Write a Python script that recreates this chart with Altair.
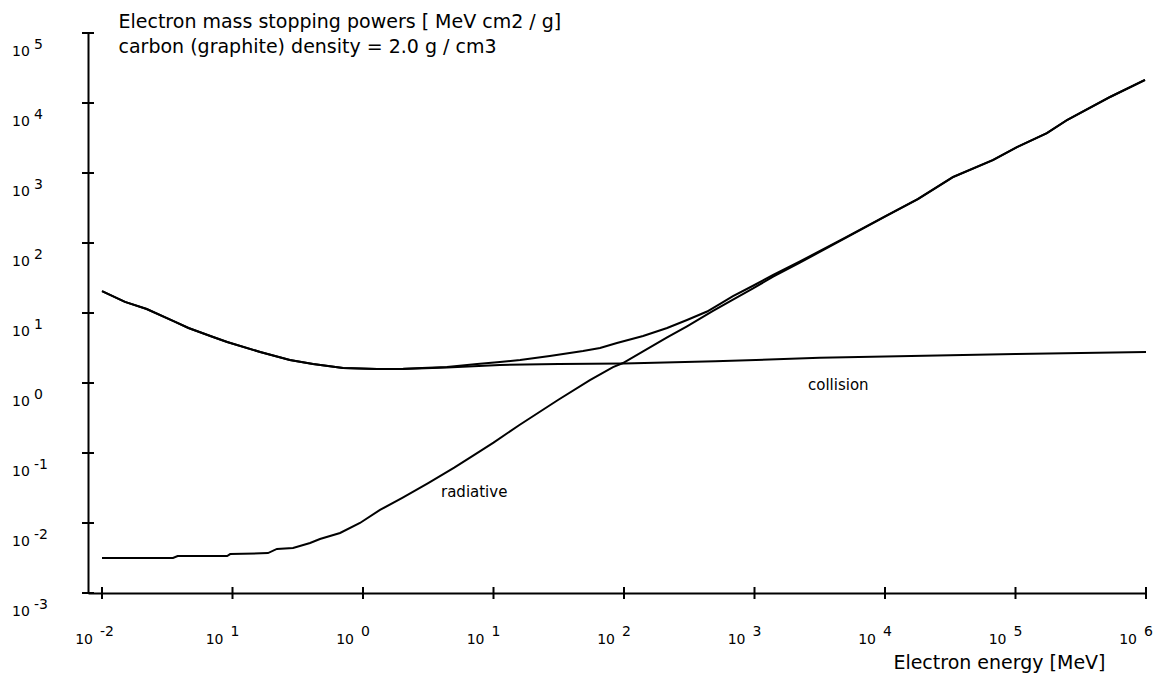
import altair as alt
import pandas as pd

# ---- values (energy in MeV, stopping power in MeV cm2/g) ----
collision_energy = [0.01, 0.015, 0.022, 0.035, 0.046, 0.071, 0.091, 0.163, 0.275, 0.414,
                    0.703, 1.28, 2.03, 4.4, 11.2, 31.6, 100, 500, 3160, 31600, 100000, 1000000]
collision_power = [20.6, 14.4, 11.4, 7.7, 6.1, 4.54, 3.85, 2.77, 2.13, 1.87,
                   1.64, 1.585, 1.585, 1.66, 1.81, 1.87, 1.90, 2.04, 2.29, 2.49, 2.59, 2.77]

radiative_energy = [0.01, 0.035, 0.038, 0.091, 0.096, 0.187, 0.219, 0.291, 0.393, 0.468,
                    0.667, 0.948, 1.35, 2.0, 3.16, 5.0, 7.08, 10, 15.8, 31.2, 54.8, 82.4,
                    98.2, 140, 214, 304, 481, 684, 975, 1390, 2230, 5000, 10000, 17900,
                    33200, 67300, 102600, 174000, 248000, 530000, 982000]
radiative_power = [0.00316, 0.00316, 0.00338, 0.00338, 0.0036, 0.00372, 0.00426, 0.0044,
                   0.00518, 0.0059, 0.0072, 0.01, 0.01535, 0.0229, 0.0372, 0.0617, 0.0933,
                   0.141, 0.251, 0.571, 1.10, 1.69, 1.93, 2.82, 4.47, 6.46, 10.7, 15.5, 22.4,
                   33.1, 52.5, 118, 238, 424, 874, 1530, 2345, 3715, 5700, 12180, 21320]

total_energy = [0.01, 0.015, 0.022, 0.035, 0.046, 0.071, 0.091, 0.163, 0.275, 0.414,
                0.703, 1.28, 2.03, 4.4, 7.5, 11.2, 16, 27, 48.5, 65.5, 88.3, 140, 214, 304,
                433, 545, 684, 975, 1390, 2230, 5000, 10000, 17900, 33200, 67300, 102600,
                174000, 248000, 530000, 982000]
total_power = [20.6, 14.4, 11.4, 7.7, 6.1, 4.54, 3.85, 2.77, 2.13, 1.87,
               1.64, 1.585, 1.6, 1.69, 1.87, 2.0, 2.13, 2.43, 2.86, 3.16, 3.72, 4.69, 6.11,
               7.94, 10.5, 13.5, 17.4, 24.5, 34.9, 54.6, 120, 240, 426, 877, 1535, 2350,
               3720, 5710, 12190, 21330]

y_tick_values = [1e-3, 1e-2, 1e-1, 1e0, 1e1, 1e2, 1e3, 1e4, 1e5]
y_tick_exponents = ["-3", "-2", "-1", "0", "1", "2", "3", "4", "5"]
x_tick_values = [1e-2, 1e-1, 1e0, 1e1, 1e2, 1e3, 1e4, 1e5, 1e6]
x_tick_exponents = ["-2", "1", "0", "1", "2", "3", "4", "5", "6"]

label_text = ["collision", "radiative"]
label_energy = [2570, 3.96]
label_power = [0.79, 0.0235]

title_lines = ["Electron mass stopping powers [ MeV cm2 / g]",
               "carbon (graphite) density = 2.0 g / cm3"]
x_title = "Electron energy [MeV]"

# ---- tables ----
df = pd.concat([
    pd.DataFrame({"energy": collision_energy, "power": collision_power, "series": "collision"}),
    pd.DataFrame({"energy": radiative_energy, "power": radiative_power, "series": "radiative"}),
    pd.DataFrame({"energy": total_energy, "power": total_power, "series": "total"}),
], ignore_index=True)
ydf = pd.DataFrame({"power": y_tick_values, "exp": y_tick_exponents})
xdf = pd.DataFrame({"energy": x_tick_values, "exp": x_tick_exponents})
adf = pd.DataFrame({"energy": label_energy, "power": label_power, "text": label_text})

W, H = 1058, 560
FS = 14
FONT = "DejaVu Sans"
xscale = alt.Scale(type="log", domain=[0.007811, 1e6], nice=False)
yscale = alt.Scale(type="log", domain=[1e-3, 1e5], nice=False)
xaxis = alt.Axis(
    title=x_title, titleX=1017, titleY=75, titleAlign="right",
    titleBaseline="alphabetic", titleFontSize=19, titleFontWeight="normal",
    titleFont=FONT, titleColor="black", labels=False, ticks=False, grid=False,
    domainColor="black", domainWidth=2)
yaxis = alt.Axis(
    title=title_lines, titleAngle=0, titleX=30, titleY=-5.5, titleAlign="left",
    titleBaseline="alphabetic", titleFontSize=19, titleFontWeight="normal",
    titleFont=FONT, titleLineHeight=24.5, titleColor="black", labels=False,
    ticks=False, grid=False, domainColor="black", domainWidth=2)

X = alt.X("energy:Q", scale=xscale, axis=xaxis)
Y = alt.Y("power:Q", scale=yscale, axis=yaxis)

lines = alt.Chart(df).mark_line(color="black", strokeWidth=2).encode(
    x=X, y=Y, detail="series:N")

ytick = alt.Chart(ydf).mark_rule(color="black", strokeWidth=2).encode(
    y=Y, x=alt.value(-6), x2=alt.value(6))
xtick = alt.Chart(xdf).mark_rule(color="black", strokeWidth=2).encode(
    x=X, y=alt.value(H - 6), y2=alt.value(H + 6))

ylab10 = alt.Chart(ydf).mark_text(align="left", baseline="alphabetic", dy=23,
                                  fontSize=FS, font=FONT, color="black").encode(
    y=Y, x=alt.value(-76), text=alt.value("10"))
ylabexp = alt.Chart(ydf).mark_text(align="left", baseline="alphabetic", dy=16,
                                   fontSize=FS, font=FONT, color="black").encode(
    y=Y, x=alt.value(-54), text="exp:N")

xlab10 = alt.Chart(xdf).mark_text(align="right", baseline="alphabetic", dx=-9,
                                  fontSize=FS, font=FONT, color="black").encode(
    x=X, y=alt.value(H + 51), text=alt.value("10"))
xlabexp = alt.Chart(xdf).mark_text(align="left", baseline="alphabetic", dx=-2,
                                   fontSize=FS, font=FONT, color="black").encode(
    x=X, y=alt.value(H + 43), text="exp:N")

anno = alt.Chart(adf).mark_text(align="left", baseline="alphabetic", fontSize=15,
                                font=FONT, color="black").encode(x=X, y=Y, text="text:N")

chart = alt.layer(lines, ytick, xtick, ylab10, ylabexp, xlab10, xlabexp, anno).properties(
    width=W, height=H, autosize="none",
    padding={"left": 88, "top": 33, "right": 8, "bottom": 81},
    background="white",
).configure(font=FONT).configure_view(stroke=None)

chart.save("out.html", embed_options={"renderer": "svg", "actions": False})
